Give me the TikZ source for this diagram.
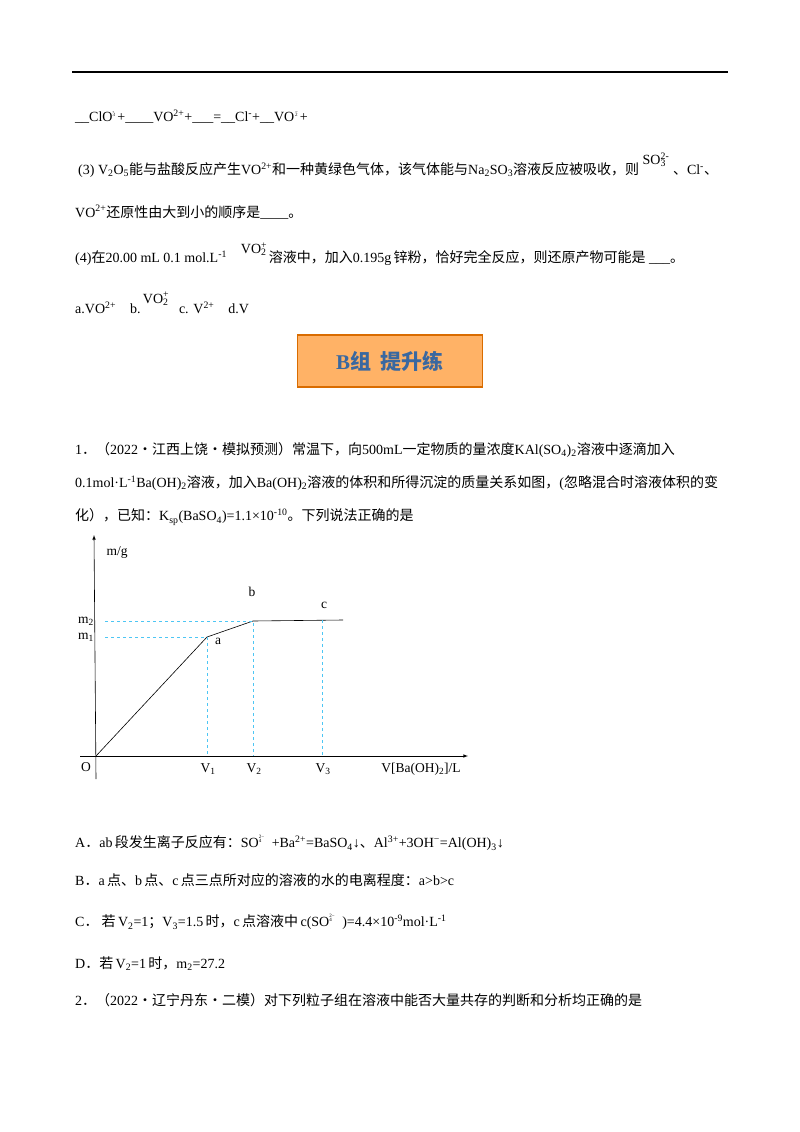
\documentclass[tikz,border=0pt]{standalone}
\usepackage{fontspec}
\setmainfont{Liberation Serif}
\newfontfamily\cjk{Noto Sans CJK SC}
\newcommand{\zh}[1]{{\cjk #1}}
\newcommand{\subsup}[2]{\rlap{\textsuperscript{#1}}\textsubscript{#2}}
\newcommand{\up}[1]{\textsuperscript{#1}}
\newcommand{\dn}[1]{\textsubscript{#1}}
\tikzset{txt/.style={anchor=west,inner sep=0pt,font=\fontsize{14}{16}\selectfont},
 lab/.style={inner sep=0pt,font=\fontsize{13.5}{15}\selectfont},
 guide/.style={cyan!70!white,dashed,line width=0.6pt},
 curve/.style={black,line width=0.6pt}}
\begin{document}
\begin{tikzpicture}[x=1pt,y=-1pt]
\useasboundingbox (0,0) rectangle (800,1132);
\draw[line width=1.2pt] (72,72) -- (728,72);
\node[txt] (l1) at (75,117) {\_\_ClO\raisebox{0.9ex}{\tiny\rlap{\raisebox{1.3ex}{-}}3}\,+\_\_\_\_VO\up{2+}+\_\_\_=\_\_Cl\up{-}+\_\_VO\raisebox{0.9ex}{\tiny\rlap{\raisebox{1.3ex}{\,−}}\,2}\,+};
\node[txt] (l2) at (78,165) {(3) V\dn{2}O\dn{5}\zh{能与盐酸反应产生}VO\up{2+}\zh{和一种黄绿色气体，该气体能与}Na\dn{2}SO\dn{3}\zh{溶液反应被吸收，则}\ \raisebox{1.6ex}{SO\subsup{2-}{3}}\ \ \zh{、}Cl\up{-}\zh{、}};
\node[txt] (l3) at (75,212) {VO\up{2+}\zh{还原性由大到小的顺序是}\_\_\_\_\zh{。}};
\node[txt] (l4) at (75,254) {(4)\zh{在}20.00 mL 0.1 mol.L\up{-1}\quad\raisebox{1.4ex}{VO\subsup{+}{2}}\,\zh{溶液中，加入}0.195g\,\zh{锌粉，恰好完全反应，则还原产物可能是} \_\_\_\zh{。}};
\node[txt] (l5) at (75,303) {a.VO\up{2+}\quad b.\,\raisebox{1.6ex}{VO\subsup{+}{2}}\ \ \ c. V\up{2+}\quad d.V};
\node[draw=orange!85!black,line width=1.5pt,fill=orange!60!white,minimum width=185pt,minimum height=52pt,font=\fontsize{21}{23}\selectfont\bfseries,text=cyan!50!blue!75!black] (box) at (390,361) {B\zh{组\ \ 提升练}};
\node[txt] (q1) at (75,450) {1\zh{．（}2022\zh{·江西上饶·模拟预测）常温下，向}500mL\zh{一定物质的量浓度}KAl(SO\dn{4})\dn{2}\zh{溶液中逐滴加入}};
\node[txt] (q1b) at (75,483) {0.1mol·L\up{-1}Ba(OH)\dn{2}\zh{溶液，加入}Ba(OH)\dn{2}\zh{溶液的体积和所得沉淀的质量关系如图，}(\zh{忽略混合时溶液体积的变}};
\node[txt] (q1c) at (75,517) {\zh{化），已知：}K\dn{sp}(BaSO\dn{4})=1.1×10\up{-10}\zh{。下列说法正确的是}};
% graph
\coordinate (O) at (96,756);
\coordinate (A) at (207,637);
\coordinate (B) at (253,621);
\coordinate (C) at (343,620);
\draw[-latex,line width=0.6pt] (96,779) -- (94,535);
\draw[-latex,line width=0.6pt] (80,756) -- (468,756);
\draw[curve] (O) -- (A) -- (B) -- (C);
\draw[guide] (105,621) -- (B) -- (253,756);
\draw[guide] (105,637) -- (A) -- (207,756);
\draw[guide] (322,620) -- (322,756);
\node[lab] (mg) at (117,553) {m/g};
\node[lab] (m2) at (86,621) {m\dn{2}};
\node[lab] (m1) at (86,637) {m\dn{1}};
\node[lab] (la) at (218,641) {a};
\node[lab] (lb) at (252,592) {b};
\node[lab] (lc) at (324,605) {c};
\node[lab] (lO) at (86,767) {O};
\node[lab] (v1) at (208,769) {V\dn{1}};
\node[lab] (v2) at (254,769) {V\dn{2}};
\node[lab] (v3) at (323,769) {V\dn{3}};
\node[lab] (vx) at (421,769) {V[Ba(OH)\dn{2}]/L};
% options
\node[txt] (oA) at (75,843) {A\zh{．}ab\,\zh{段发生离子反应有：}SO\raisebox{0.9ex}{\tiny\rlap{\raisebox{1.6ex}{2−}}4}\ \ \ +Ba\up{2+}=BaSO\dn{4}↓\zh{、}Al\up{3+}+3OH\up{−}=Al(OH)\dn{3}↓};
\node[txt] (oB) at (75,880) {B\zh{．}a\,\zh{点、}b\,\zh{点、}c\,\zh{点三点所对应的溶液的水的电离程度：}a>b>c};
\node[txt] (oC) at (75,922) {C\zh{．\ 若}\,V\dn{2}=1\zh{；}V\dn{3}=1.5\,\zh{时，}c\,\zh{点溶液中}\,c(SO\raisebox{0.9ex}{\tiny\rlap{\raisebox{1.6ex}{2−}}4}\ \ \ )=4.4×10\up{-9}mol·L\up{-1}};
\node[txt] (oD) at (75,964) {D\zh{．若}\,V\dn{2}=1\,\zh{时，}m\dn{2}=27.2};
\node[txt] (q2) at (75,1000) {2\zh{．（}2022\zh{·辽宁丹东·二模）对下列粒子组在溶液中能否大量共存的判断和分析均正确的是}};
\end{tikzpicture}
\end{document}
